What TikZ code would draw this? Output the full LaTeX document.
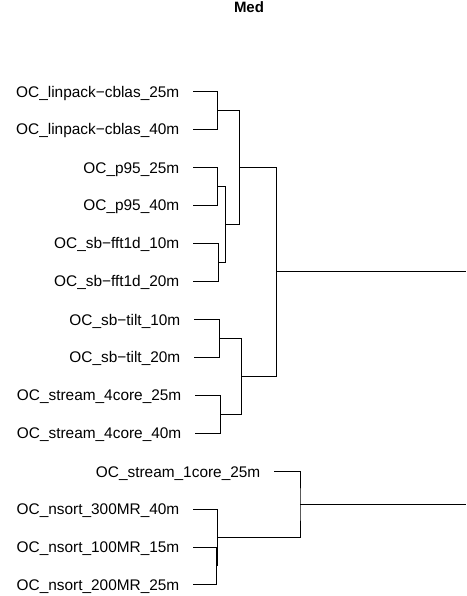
\documentclass[tikz,border=0pt]{standalone}
\usepackage{fontspec}
\setmainfont{Liberation Sans}
\begin{document}
\begin{tikzpicture}[x=1pt,y=-1pt,
  leaf/.style={anchor=base east,inner sep=0pt,font=\fontsize{15.4}{18}\selectfont},
  branch/.style={line width=0.9pt,black}]
\useasboundingbox (0,0) rectangle (466,596);
\node[anchor=base,inner sep=0pt,font=\fontsize{15}{18}\selectfont\bfseries] (title) at (249,13) {Med};
% leaf line starts
\coordinate (l1) at (193,91.7);
\coordinate (l2) at (193,129.3);
\coordinate (l3) at (193,167.7);
\coordinate (l4) at (193,205.3);
\coordinate (l5) at (193,243.3);
\coordinate (l6) at (193,281.3);
\coordinate (l7) at (194,319.7);
\coordinate (l8) at (194,357.3);
\coordinate (l9) at (195,395.3);
\coordinate (l10) at (195,433);
\coordinate (l11) at (274,471.7);
\coordinate (l12) at (193,509.3);
\coordinate (l13) at (193,547);
\coordinate (l14) at (193,584.7);
% labels
\foreach \n/\t in {1/OC\_linpack−cblas\_25m,2/OC\_linpack−cblas\_40m,3/OC\_p95\_25m,4/OC\_p95\_40m,5/OC\_sb−fft1d\_10m,6/OC\_sb−fft1d\_20m,7/OC\_sb−tilt\_10m,8/OC\_sb−tilt\_20m,9/OC\_stream\_4core\_25m,10/OC\_stream\_4core\_40m,11/OC\_stream\_1core\_25m,12/OC\_nsort\_300MR\_40m,13/OC\_nsort\_100MR\_15m,14/OC\_nsort\_200MR\_25m}
  \node[leaf] (t\n) at ([xshift=-13.5pt,yshift=-5.5pt]l\n) {\t};
% merges
\coordinate (m12) at (217.3,110.5);
\coordinate (m34) at (217.3,186.5);
\coordinate (m56) at (218.3,262.3);
\coordinate (m36) at (225.3,224.4);
\coordinate (m16) at (239.3,167.5);
\coordinate (m78) at (219.7,338.5);
\coordinate (m910) at (220.7,414.2);
\coordinate (m710) at (241.7,376.3);
\coordinate (mtop) at (276.7,271.9);
\coordinate (rtop) at (466,271.9);
\coordinate (m1314) at (216.7,565.9);
\coordinate (m1214) at (217.7,537.6);
\coordinate (m11) at (300,504.5);
\coordinate (rbot) at (466,504.5);
\begin{scope}[branch]
\draw (l1) -| (m12) |- (l2);
\draw (l3) -| (m34) |- (l4);
\draw (l5) -| (m56) |- (l6);
\draw (m34) -| (m36) |- (m56);
\draw (m12) -| (m16) |- (m36);
\draw (l7) -| (m78) |- (l8);
\draw (l9) -| (m910) |- (l10);
\draw (m78) -| (m710) |- (m910);
\draw (m16) -| (mtop) |- (m710);
\draw (mtop) -- (rtop);
\draw (l13) -| (m1314) |- (l14);
\draw (l12) -| (m1214) |- (m1314);
\draw (l11) -| (m11) |- (m1214);
\draw (m11) -- (rbot);
\end{scope}
\end{tikzpicture}
\end{document}
